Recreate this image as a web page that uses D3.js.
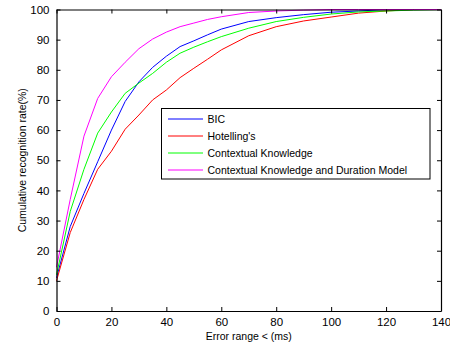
<!DOCTYPE html>
<html><head><meta charset="utf-8">
<script src="https://cdn.jsdelivr.net/npm/d3@7"></script>
<style>body{margin:0;background:#fff}svg{display:block}text{font-family:"Liberation Sans",Arial,sans-serif}</style>
</head><body><svg id="c" width="450" height="347"></svg>
<script>
const xs = [0,5,10,15,20,25,30,35,40,45,50,55,60,70,80,90,100,110,120,130,140];
const bic = [11,28,39,49.5,60,69.5,76,80.8,84.5,87.7,89.6,91.6,93.5,96,97.3,98.3,99.1,99.5,100,100,100];
const hotelling = [10,26,37,47,53,60.3,65,70,73.3,77.4,80.5,83.5,86.6,91.3,94.3,96.2,97.5,98.8,99.5,100,100];
const contextual = [12,33,47,59,66,72.2,75.6,78.8,82.5,85.5,87.5,89.3,91,93.8,96,97.4,98.5,99.2,99.5,99.8,100];
const contextualDur = [14.5,37,58,70.5,77.7,82.5,87,90.2,92.5,94.3,95.5,96.7,97.6,99,99.5,99.8,100,100,100,100,100];
const seriesNames = ["BIC","Hotelling's","Contextual Knowledge","Contextual Knowledge and Duration Model"];
const seriesColors = ["#0000ff","#ff0000","#00ff00","#ff00ff"];
const xTicks = [0,20,40,60,80,100,120,140];
const yTicks = [0,10,20,30,40,50,60,70,80,90,100];

const svg = d3.select("#c");
const L=56.5, R=441, T=9.5, B=311;
const x = d3.scaleLinear().domain([0,140]).range([L,R]);
const y = d3.scaleLinear().domain([0,100]).range([B,T]);

const all = [bic,hotelling,contextual,contextualDur];
const line = d3.line().x((d,i)=>x(xs[i])).y(d=>y(d));
all.forEach((s,k)=>{
  svg.append("path").attr("d",line(s)).attr("fill","none").attr("stroke",seriesColors[k]).attr("stroke-width",1);
});

// axes
const gb = svg.append("g").attr("transform",`translate(0,${B})`).call(d3.axisBottom(x).tickValues(xTicks).tickSizeInner(-4).tickSizeOuter(0).tickPadding(7));
const gt = svg.append("g").attr("transform",`translate(0,${T})`).call(d3.axisTop(x).tickValues(xTicks).tickSizeInner(-4).tickSizeOuter(0).tickFormat(""));
const gl = svg.append("g").attr("transform",`translate(${L},0)`).call(d3.axisLeft(y).tickValues(yTicks).tickSizeInner(-4).tickSizeOuter(0).tickPadding(7));
const gr = svg.append("g").attr("transform",`translate(${R},0)`).call(d3.axisRight(y).tickValues(yTicks).tickSizeInner(-4).tickSizeOuter(0).tickFormat(""));
[gb,gt,gl,gr].forEach(g=>{
  g.selectAll("path").attr("stroke","#000").attr("stroke-width",1.2);
  g.selectAll("line").attr("stroke","#000");
  g.selectAll("text").attr("fill","#000").style("font-size","11.5px").style("font-family",'"Liberation Sans",Arial,sans-serif');
});

svg.append("text").attr("x",(L+R)/2).attr("y",340).attr("text-anchor","middle").style("font-size","10.5px").text("Error range < (ms)");
svg.append("text").attr("transform",`translate(26,${(T+B)/2}) rotate(-90)`).attr("text-anchor","middle").style("font-size","10.5px").text("Cumulative recognition rate(%)");

// legend
const lg = svg.append("g");
lg.append("rect").attr("x",161.5).attr("y",108.5).attr("width",268.5).attr("height",70.5).attr("fill","#fff").attr("stroke","#000").attr("stroke-width",1);
seriesNames.forEach((n,k)=>{
  const yy = 119 + k*17;
  lg.append("line").attr("x1",168).attr("x2",203).attr("y1",yy).attr("y2",yy).attr("stroke",seriesColors[k]);
  lg.append("text").attr("x",207.5).attr("y",yy+4).style("font-size","10.5px").attr("fill","#000").text(n);
});
</script></body></html>
